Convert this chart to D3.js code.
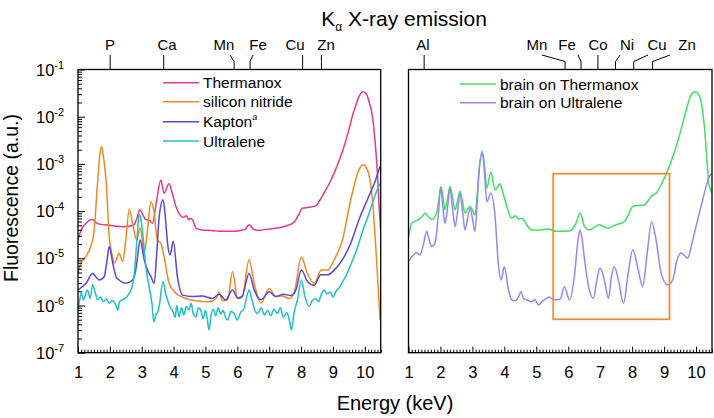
<!DOCTYPE html>
<html><head><meta charset="utf-8">
<script src="https://cdn.jsdelivr.net/npm/d3@7"></script>
<style>
body{margin:0;background:#fff;}
text{font-family:"Liberation Sans",Arial,sans-serif;fill:#000;}
</style></head>
<body><svg id="chart" width="714" height="418"></svg>
<script>
// ---------- DATA ----------
const xTickLabels = [1,2,3,4,5,6,7,8,9,10];
const yTickExponents = [-1,-2,-3,-4,-5,-6,-7];
const leftElements = ["P","Ca","Mn","Fe","Cu","Zn"];
const leftElementEnergies = [2.01,3.69,5.90,6.40,8.05,8.64];
const rightElements = ["Al","Mn","Fe","Co","Ni","Cu","Zn"];
const rightElementEnergies = [1.49,5.90,6.40,6.93,7.48,8.05,8.64];
const leftSeriesNames = ["Thermanox","silicon nitride","Kapton","Ultralene"];
const rightSeriesNames = ["brain on Thermanox","brain on Ultralene"];
const boxEnergy = [5.53, 9.17];
const boxFluor = [6.2e-4, 5.1e-7];

const thermanox = [[1.0,2.45e-5],[1.1,3.98e-5],[1.25,5.5e-5],[1.45,6.61e-5],[1.6,5.5e-5],[1.8,5.13e-5],[2.0,5.01e-5],[2.2,4.79e-5],[2.4,4.68e-5],[2.6,4.79e-5],[2.75,5.01e-5],[2.85,7.08e-5],[2.94,1.07e-4],[3.05,7.94e-5],[3.13,6.61e-5],[3.25,6.31e-5],[3.34,5.5e-5],[3.45,1.41e-4],[3.6,4.57e-4],[3.7,2.4e-4],[3.86,3.8e-4],[3.95,2.51e-4],[4.07,1.26e-4],[4.2,8.32e-5],[4.3,7.41e-5],[4.4,7.94e-5],[4.47,6.61e-5],[4.54,7.08e-5],[4.62,6.03e-5],[4.7,4.37e-5],[4.9,3.98e-5],[5.2,3.89e-5],[5.5,3.72e-5],[5.82,3.72e-5],[6.1,3.89e-5],[6.25,4.17e-5],[6.37,5.13e-5],[6.5,4.17e-5],[6.64,3.89e-5],[7.0,4.17e-5],[7.26,4.37e-5],[7.5,4.79e-5],[7.78,5.75e-5],[7.92,8.32e-5],[8.04,1.15e-4],[8.25,1.2e-4],[8.46,1.29e-4],[8.6,1.74e-4],[8.72,2.4e-4],[8.9,3.98e-4],[9.04,6.46e-4],[9.2,1.2e-3],[9.35,2.34e-3],[9.5,5.25e-3],[9.61,1.02e-2],[9.72,1.74e-2],[9.82,2.69e-2],[9.94,3.39e-2],[10.05,3.02e-2],[10.15,1.91e-2],[10.24,1.02e-2],[10.32,3.16e-3],[10.39,7.59e-4],[10.45,1.26e-4],[10.5,3.55e-5]];

const siliconNitride = [[1.0,4.79e-6],[1.1,7.94e-6],[1.25,1.1e-5],[1.4,1.78e-5],[1.5,3.55e-5],[1.62,4.57e-4],[1.68,1.41e-3],[1.74,2.34e-3],[1.8,1.41e-3],[1.88,4.57e-4],[1.98,2.88e-5],[2.06,1.26e-5],[2.14,7.94e-6],[2.22,1.0e-5],[2.29,1.29e-5],[2.4,8.51e-6],[2.5,2.45e-5],[2.61,1.1e-4],[2.73,4.68e-5],[2.84,2.45e-5],[2.95,4.37e-5],[3.08,1.29e-5],[3.18,3.98e-5],[3.29,1.58e-4],[3.39,9.12e-5],[3.49,2.45e-5],[3.6,2.09e-5],[3.7,1.1e-5],[3.86,2.95e-6],[4.07,1.82e-6],[4.38,1.41e-6],[4.7,1.26e-6],[5.11,1.2e-6],[5.33,1.41e-6],[5.43,1.91e-6],[5.53,1.26e-6],[5.7,1.32e-6],[5.85,5.25e-6],[6.01,1.41e-6],[6.15,1.48e-6],[6.37,9.33e-6],[6.53,2.95e-6],[6.74,1.12e-6],[7.0,2.29e-6],[7.21,1.55e-6],[7.4,1.58e-6],[7.63,1.41e-6],[7.78,1.82e-6],[8.01,1.05e-5],[8.2,4.79e-6],[8.41,2.95e-6],[8.64,5.62e-6],[8.83,5.62e-6],[9.04,9.33e-6],[9.3,2.45e-5],[9.56,1.74e-4],[9.82,7.59e-4],[9.96,9.55e-4],[10.08,7.59e-4],[10.24,1.74e-4],[10.37,9.33e-6],[10.48,4.9e-7]];

const kapton = [[1.0,2.14e-6],[1.25,2.95e-6],[1.46,4.79e-6],[1.57,3.98e-6],[1.67,3.47e-6],[1.82,4.07e-6],[1.92,1.0e-5],[1.98,1.78e-5],[2.09,7.94e-6],[2.2,3.98e-6],[2.29,3.47e-6],[2.5,2.95e-6],[2.71,3.47e-6],[2.8,5.01e-6],[2.87,1.1e-5],[2.95,2.45e-5],[3.08,9.33e-6],[3.18,5.62e-6],[3.29,4.07e-6],[3.39,2.95e-6],[3.48,1.58e-5],[3.55,7.76e-5],[3.67,1.74e-4],[3.75,6.31e-5],[3.81,2.09e-5],[3.89,1.17e-5],[3.99,2.29e-5],[4.12,4.07e-6],[4.28,1.66e-6],[4.59,1.55e-6],[4.9,1.58e-6],[5.22,1.41e-6],[5.43,1.74e-6],[5.63,1.32e-6],[5.85,2.14e-6],[6.01,1.45e-6],[6.15,1.58e-6],[6.37,4.79e-6],[6.53,2.14e-6],[6.74,1.32e-6],[7.0,1.95e-6],[7.21,1.55e-6],[7.45,1.74e-6],[7.68,1.62e-6],[7.84,2.14e-6],[8.01,5.62e-6],[8.2,3.24e-6],[8.41,2.69e-6],[8.62,4.47e-6],[8.83,4.47e-6],[9.04,5.62e-6],[9.3,9.33e-6],[9.56,2.09e-5],[9.82,6.61e-5],[10.08,1.74e-4],[10.34,4.57e-4],[10.48,8.91e-4]];

const ultralene = [[1.0,8.13e-7],[1.05,1.26e-6],[1.1,1.82e-6],[1.18,1.32e-6],[1.22,1.58e-6],[1.3,2.14e-6],[1.38,1.41e-6],[1.46,2.75e-6],[1.55,1.78e-6],[1.62,1.32e-6],[1.7,1.51e-6],[1.8,1.2e-6],[1.88,1.38e-6],[1.98,1.12e-6],[2.08,1.26e-6],[2.19,1.02e-6],[2.25,7.94e-7],[2.3,1.2e-6],[2.4,1.32e-6],[2.5,1.45e-6],[2.61,1.82e-6],[2.7,2.51e-6],[2.77,4.79e-6],[2.85,2.51e-5],[2.92,8.32e-5],[2.97,7.08e-5],[3.03,3.39e-5],[3.13,6.61e-6],[3.23,2.51e-6],[3.32,1.12e-6],[3.38,4.47e-7],[3.44,6.31e-7],[3.5,7.08e-7],[3.55,1.0e-6],[3.67,3.24e-6],[3.75,1.78e-6],[3.81,1.32e-6],[3.9,8.91e-7],[3.96,8.13e-7],[4.05,5.62e-7],[4.1,1.0e-6],[4.17,5.75e-7],[4.25,8.91e-7],[4.32,6.31e-7],[4.4,9.55e-7],[4.49,8.13e-7],[4.55,1.12e-6],[4.62,6.61e-7],[4.7,5.75e-7],[4.78,8.91e-7],[4.86,7.59e-7],[4.93,5.25e-7],[5.0,7.94e-7],[5.06,5.01e-7],[5.11,3.02e-7],[5.18,6.31e-7],[5.25,8.32e-7],[5.32,6.03e-7],[5.4,8.91e-7],[5.48,6.61e-7],[5.55,7.94e-7],[5.63,5.62e-7],[5.7,4.9e-7],[5.8,7.59e-7],[5.9,6.76e-7],[6.0,4.9e-7],[6.1,7.08e-7],[6.2,8.32e-7],[6.3,1.58e-6],[6.37,2.14e-6],[6.45,1.41e-6],[6.55,7.94e-7],[6.64,6.76e-7],[6.75,8.91e-7],[6.85,6.31e-7],[6.95,7.94e-7],[7.05,6.03e-7],[7.15,8.32e-7],[7.26,6.76e-7],[7.35,8.91e-7],[7.45,5.62e-7],[7.55,7.08e-7],[7.63,5.01e-7],[7.7,3.02e-7],[7.78,7.08e-7],[7.88,1.26e-6],[8.01,3.47e-6],[8.12,1.58e-6],[8.25,9.55e-7],[8.35,1.26e-6],[8.45,1.41e-6],[8.55,1.2e-6],[8.63,1.66e-6],[8.72,2.14e-6],[8.82,1.78e-6],[8.92,1.91e-6],[9.0,1.51e-6],[9.1,2.0e-6],[9.2,2.4e-6],[9.3,3.16e-6],[9.45,4.79e-6],[9.58,7.94e-6],[9.71,1.29e-5],[9.85,2.51e-5],[9.98,4.68e-5],[10.11,7.94e-5],[10.24,1.48e-4],[10.36,2.51e-4],[10.48,3.89e-4]];

const brainThermanox = [[1.0,2.88e-5],[1.1,5.5e-5],[1.31,6.61e-5],[1.42,7.59e-5],[1.52,9.12e-5],[1.62,7.59e-5],[1.73,6.61e-5],[1.88,9.12e-5],[1.95,1.78e-4],[2.01,3.31e-4],[2.08,2.0e-4],[2.14,1.07e-4],[2.22,1.78e-4],[2.3,3.31e-4],[2.38,1.91e-4],[2.46,1.07e-4],[2.53,1.58e-4],[2.61,2.63e-4],[2.69,1.58e-4],[2.77,9.12e-5],[2.85,1.1e-4],[2.93,1.26e-4],[3.0,1.05e-4],[3.08,8.32e-5],[3.15,2.24e-4],[3.21,7.59e-4],[3.31,1.86e-3],[3.38,8.91e-4],[3.45,3.09e-4],[3.58,6.61e-4],[3.71,2.82e-4],[3.86,3.8e-4],[3.95,2.51e-4],[4.02,1.74e-4],[4.12,1.0e-4],[4.23,7.08e-5],[4.35,7.94e-5],[4.44,6.76e-5],[4.54,7.08e-5],[4.62,6.31e-5],[4.7,5.13e-5],[4.86,3.98e-5],[5.1,3.98e-5],[5.38,4.17e-5],[5.62,3.72e-5],[6.04,3.8e-5],[6.24,5.5e-5],[6.37,9.12e-5],[6.51,4.68e-5],[6.66,3.98e-5],[6.97,5.13e-5],[7.1,4.68e-5],[7.24,4.37e-5],[7.5,5.13e-5],[7.76,6.03e-5],[7.9,8.91e-5],[8.02,1.26e-4],[8.2,1.32e-4],[8.38,1.35e-4],[8.5,1.66e-4],[8.59,2.04e-4],[8.75,2.4e-4],[8.9,3.55e-4],[9.06,5.89e-4],[9.22,1.12e-3],[9.38,2.34e-3],[9.52,5.01e-3],[9.64,1.02e-2],[9.75,1.91e-2],[9.85,2.95e-2],[9.98,3.39e-2],[10.11,2.69e-2],[10.2,1.41e-2],[10.26,6.31e-3],[10.33,1.58e-3],[10.4,3.89e-4],[10.5,2.4e-4]];

const brainUltralene = [[1.0,8.51e-6],[1.15,1.17e-5],[1.25,1.32e-5],[1.35,1.17e-5],[1.47,2.0e-5],[1.57,3.72e-5],[1.65,2.4e-5],[1.73,1.78e-5],[1.83,2.09e-5],[1.93,7.94e-5],[2.01,3.09e-4],[2.08,1.12e-4],[2.14,5.5e-5],[2.22,1.12e-4],[2.3,3.09e-4],[2.38,1.12e-4],[2.46,4.68e-5],[2.53,8.91e-5],[2.61,2.4e-4],[2.69,1.0e-4],[2.77,3.98e-5],[2.85,7.08e-5],[2.93,1.15e-4],[3.0,7.08e-5],[3.08,3.72e-5],[3.15,1.58e-4],[3.21,6.92e-4],[3.31,1.7e-3],[3.38,6.31e-4],[3.45,1.58e-4],[3.58,2.4e-4],[3.71,7.76e-5],[3.81,7.94e-6],[3.9,3.47e-6],[4.0,6.61e-6],[4.13,2.14e-6],[4.23,1.32e-6],[4.35,1.26e-6],[4.45,1.58e-6],[4.52,1.95e-6],[4.6,1.41e-6],[4.7,1.32e-6],[4.86,1.2e-6],[4.95,1.32e-6],[5.07,1.02e-6],[5.2,1.26e-6],[5.3,1.38e-6],[5.4,1.51e-6],[5.5,1.38e-6],[5.62,1.32e-6],[5.75,1.38e-6],[5.88,2.51e-6],[6.04,1.32e-6],[6.19,4.07e-6],[6.3,2.24e-5],[6.37,3.98e-5],[6.44,2.4e-5],[6.51,9.33e-6],[6.66,2.14e-6],[6.79,1.41e-6],[6.9,3.55e-6],[6.99,6.17e-6],[7.07,5.01e-6],[7.13,3.47e-6],[7.26,1.41e-6],[7.35,3.98e-6],[7.44,6.61e-6],[7.58,3.24e-6],[7.73,1.12e-6],[7.88,5.01e-6],[8.02,1.51e-5],[8.18,6.17e-6],[8.33,2.51e-6],[8.47,1.26e-5],[8.61,5.89e-5],[8.75,2.45e-5],[8.91,4.79e-6],[9.11,2.75e-6],[9.27,3.47e-6],[9.4,8.91e-6],[9.53,1.29e-5],[9.65,1.12e-5],[9.74,1.0e-5],[9.85,1.78e-5],[9.95,3.39e-5],[10.08,7.94e-5],[10.21,1.74e-4],[10.35,3.98e-4],[10.45,5.89e-4],[10.5,6.03e-4]];

// ---------- LAYOUT ----------
const svg = d3.select("#chart");
const plotTop = 69.5, plotBottom = 352.7;
const panels = [
  {x0:78, x1:380.7, id:"L"},
  {x0:408.5, x1:712, id:"R"}
];
const colors = {
  "Thermanox":"#e5388f","silicon nitride":"#f08a20","Kapton":"#5a46d8","Ultralene":"#1fc0c8",
  "brain on Thermanox":"#40df60","brain on Ultralene":"#9488f2"
};
const y = d3.scaleLog().domain([1e-7,1e-1]).range([plotBottom, plotTop]);

panels.forEach(p=>{
  p.x = d3.scaleLinear().domain([1,10.5]).range([p.x0,p.x1]);
  svg.append("clipPath").attr("id","clip"+p.id).append("rect")
    .attr("x",p.x0).attr("y",plotTop).attr("width",p.x1-p.x0).attr("height",plotBottom-plotTop);
});

function drawLines(p, names, datas){
  const line = d3.line().x(d=>p.x(d[0])).y(d=>y(d[1])).curve(d3.curveMonotoneX);
  const g = svg.append("g").attr("clip-path","url(#clip"+p.id+")");
  names.forEach((n,i)=>{
    g.append("path").datum(datas[i]).attr("d",line)
      .attr("fill","none").attr("stroke",colors[n]).attr("stroke-width",1.5)
      .attr("stroke-linejoin","round");
  });
}
drawLines(panels[0], leftSeriesNames, [thermanox, siliconNitride, kapton, ultralene]);
drawLines(panels[1], rightSeriesNames, [brainThermanox, brainUltralene]);

// orange box
const pr = panels[1];
svg.append("rect")
  .attr("x",pr.x(boxEnergy[0])).attr("y",y(boxFluor[0]))
  .attr("width",pr.x(boxEnergy[1])-pr.x(boxEnergy[0]))
  .attr("height",y(boxFluor[1])-y(boxFluor[0]))
  .attr("fill","none").attr("stroke","#ef8e2c").attr("stroke-width",1.8);

// axes
const minorX = d3.range(10,106).map(d=>d/10).filter(d=>Math.abs(d-Math.round(d))>1e-6);
panels.forEach(p=>{
  const gMin = svg.append("g").attr("transform",`translate(0,${plotBottom})`)
    .call(d3.axisBottom(p.x).tickValues(minorX).tickSize(-3).tickFormat(""));
  const gMaj = svg.append("g").attr("transform",`translate(0,${plotBottom})`)
    .call(d3.axisBottom(p.x).tickValues(xTickLabels).tickSize(-6).tickPadding(14).tickFormat(d3.format("d")));
  [gMin,gMaj].forEach(g=>{g.select(".domain").remove(); g.selectAll("line").attr("stroke","#000").attr("stroke-width",1);});
  gMaj.selectAll("text").attr("font-size",16.5).attr("font-family","Liberation Sans, Arial, sans-serif");
  svg.append("rect").attr("x",p.x0).attr("y",plotTop).attr("width",p.x1-p.x0).attr("height",plotBottom-plotTop)
    .attr("fill","none").attr("stroke","#000").attr("stroke-width",1.3);
});

// y axis (left panel)
const p0 = panels[0];
const majorY = yTickExponents.map(e=>Math.pow(10,e));
const minorY = [];
majorY.slice(1).forEach(d=>{ for(let k=2;k<=9;k++) minorY.push(d*k); });
const gyMin = svg.append("g").attr("transform",`translate(${p0.x0},0)`)
  .call(d3.axisLeft(y).tickValues(minorY).tickSize(-4).tickFormat(""));
const gyMaj = svg.append("g").attr("transform",`translate(${p0.x0},0)`)
  .call(d3.axisLeft(y).tickValues(majorY).tickSize(-7).tickFormat(""));
[gyMin,gyMaj].forEach(g=>{g.select(".domain").remove(); g.selectAll("line").attr("stroke","#000");});
yTickExponents.forEach((e,i)=>{
  const t = svg.append("text").attr("x",36).attr("y",y(majorY[i])+6).attr("font-size",16.5);
  t.append("tspan").text("10");
  t.append("tspan").attr("font-size",11).attr("dy",-7).text("-"+Math.abs(e));
});

// element markers
function drawElements(p, names, energies, labelX, startX){
  names.forEach((n,i)=>{
    const tx = p.x(energies[i]);
    const pts = [[labelX[i]+startX[i],55],[tx,61.5],[tx,plotTop]];
    if (Math.abs(labelX[i]+startX[i]-tx)<2) pts[0]=[tx,55];
    svg.append("path").attr("d",d3.line()(pts)).attr("fill","none").attr("stroke","#000").attr("stroke-width",1);
    svg.append("text").attr("x",labelX[i]).attr("y",50).attr("text-anchor","middle").attr("font-size",15).text(n);
  });
}
drawElements(p0, leftElements, leftElementEnergies, [110,167,224,258,295,326],[0,-2,6,-5,6,-3]);
drawElements(pr, rightElements, rightElementEnergies, [423,537,567,598,627,657,687],[1,5,11,0,-7,-9,-17]);

// legends
function legend(names, x, ys){
  names.forEach((n,i)=>{
    svg.append("line").attr("x1",x).attr("x2",x+36).attr("y1",ys[i]).attr("y2",ys[i])
      .attr("stroke",colors[n]).attr("stroke-width",1.5);
    const t = svg.append("text").attr("x",x+40).attr("y",ys[i]+5.5).attr("font-size",15.5);
    if(n==="Kapton"){
      t.append("tspan").text("Kapton");
      t.append("tspan").attr("font-size",9).attr("font-style","italic").attr("dy",-7).text("a");
    } else t.text(n);
  });
}
legend(leftSeriesNames, 163, [82.7,101.7,121.7,141]);
legend(rightSeriesNames, 460, [84,102.7]);

// title and axis labels
const title = svg.append("text").attr("x",404).attr("y",26).attr("text-anchor","middle").attr("font-size",21);
title.append("tspan").text("K");
title.append("tspan").attr("font-size",12).attr("dy",5).text("α");
title.append("tspan").attr("dy",-5).text(" X-ray emission");
svg.append("text").attr("x",395).attr("y",410).attr("text-anchor","middle").attr("font-size",20).text("Energy (keV)");
svg.append("text").attr("transform","translate(18,198) rotate(-90)").attr("text-anchor","middle").attr("font-size",19.5).text("Fluorescence (a.u.)");
</script></body></html>
